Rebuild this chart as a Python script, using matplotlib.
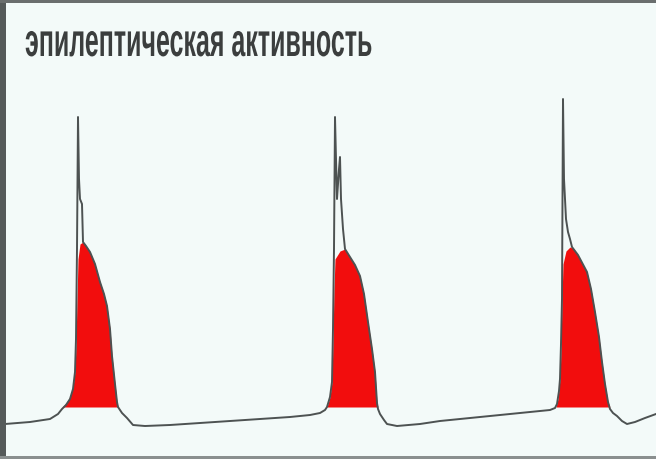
import matplotlib
matplotlib.use("Agg")
import matplotlib.pyplot as plt
from matplotlib.patches import Rectangle
from matplotlib.transforms import Affine2D
import matplotlib.patheffects as pe

# Membrane-potential trace (x = time, arbitrary units; y = potential, arbitrary units)
trace_t = [5, 30, 50, 58, 62, 66, 70, 73, 75, 76, 77, 78, 79, 80, 82, 83, 86, 90, 95, 100,
           104, 107, 110, 112, 115, 117, 118, 122, 127, 133, 145, 170, 200, 230, 260, 290,
           310, 320, 325, 327, 330, 332, 333, 334, 335, 336, 337, 339, 340, 341, 343, 345,
           350, 355, 360, 364, 368, 372, 375, 377, 378, 380, 384, 387, 397, 420, 440, 470,
           500, 530, 550, 555, 557, 559, 560, 561, 562, 563, 564, 566, 568, 570, 572, 578,
           587, 591, 595, 599, 602, 605, 608, 610, 613, 617, 622, 627, 635, 645, 656]
trace_y_px = [425, 423, 420, 415, 410, 406, 400, 390, 373, 340, 250, 118, 180, 200, 205, 243,
              247, 253, 265, 283, 295, 307, 330, 357, 385, 403, 408, 414, 419, 426, 427, 426,
              424, 422, 420, 418, 416, 414, 411, 408, 398, 383, 330, 250, 118, 160, 200, 170,
              158, 200, 230, 250, 258, 266, 277, 295, 323, 350, 373, 404, 410, 415, 421, 425,
              427, 425, 422, 419, 416, 413, 411, 409, 405, 392, 380, 345, 300, 100, 180, 220,
              233, 240, 248, 256, 273, 290, 313, 338, 363, 385, 403, 410, 414, 417, 422, 425,
              423, 419, 415]
trace_v = [460 - p for p in trace_y_px]

# Depolarisation plateaus (red areas): upper boundary of each burst
burst1_t = [62, 66, 70, 73, 75, 76, 77, 78, 80, 83, 86, 90, 95, 100, 104, 107, 110, 112, 115, 117, 118]
burst1_px = [408, 404, 398, 388, 372, 345, 300, 260, 245, 243, 247, 253, 265, 283, 295, 307, 330, 357, 385, 403, 408]
burst2_t = [327, 330, 332, 333, 334, 335, 340, 345, 350, 355, 360, 364, 368, 372, 375, 377, 378]
burst2_px = [408, 398, 383, 340, 290, 260, 252, 250, 258, 266, 277, 295, 323, 350, 373, 404, 408]
burst3_t = [556, 558, 560, 561, 562, 563, 566, 570, 574, 580, 587, 591, 595, 599, 602, 605, 608, 610]
burst3_px = [408, 400, 380, 350, 300, 265, 252, 248, 250, 260, 273, 290, 313, 338, 363, 385, 403, 408]
burst_base = 460 - 408

title = "эпилептическая активность"


class Condense(pe.AbstractPathEffect):
    """Scale glyphs about the text origin (text stays real text)."""

    def __init__(self, x0, y0, sx, sy):
        super().__init__()
        self.x0, self.y0, self.sx, self.sy = x0, y0, sx, sy

    def draw_path(self, renderer, gc, tpath, affine, rgbFace=None):
        squeeze = (Affine2D().translate(-self.x0, -self.y0)
                   .scale(self.sx, self.sy).translate(self.x0, self.y0))
        renderer.draw_path(gc, tpath, affine + squeeze, rgbFace)


fig = plt.figure(figsize=(6.56, 4.60), dpi=100)
bg = "#f3faf9"
fig.patch.set_facecolor(bg)
ax = fig.add_axes([0, 0, 1, 1])
ax.set_facecolor(bg)
ax.set_xlim(0, 656)
ax.set_ylim(0, 460)
ax.axis("off")

red = "#f20d0d"
for bt, bp in [(burst1_t, burst1_px), (burst2_t, burst2_px), (burst3_t, burst3_px)]:
    bv = [460 - p for p in bp]
    ax.fill_between(bt, bv, burst_base, color=red, linewidth=0, zorder=2)

ax.plot(trace_t, trace_v, color="#4d5252", lw=1.4, zorder=3, solid_joinstyle="round")

base_size = 26.0
wanted_size = 33.5
txt = ax.text(25, 460 - 57, title, fontsize=base_size, color="#3b3e3e", fontweight="bold",
              family=["Liberation Sans", "DejaVu Sans"],
              va="baseline", ha="left", zorder=4)
fig.canvas.draw()
bb = txt.get_window_extent(renderer=fig.canvas.get_renderer())
x0_disp, y0_disp = ax.transData.transform((25, 460 - 57))
target_w = 347.0
txt.set_path_effects([Condense(x0_disp, y0_disp, target_w / bb.width, wanted_size / base_size)])

# frame
ax.add_patch(Rectangle((0, 0), 6 / 656, 1, transform=ax.transAxes, color="#555a5a", zorder=5, lw=0))
ax.add_patch(Rectangle((0, 1 - 4 / 460), 1, 4 / 460, transform=ax.transAxes, color="#6a6e6e", zorder=5, lw=0))
ax.add_patch(Rectangle((0, 0), 1, 3 / 460, transform=ax.transAxes, color="#8a8f8f", zorder=5, lw=0))

fig.savefig("out.png", dpi=100, facecolor=bg)
